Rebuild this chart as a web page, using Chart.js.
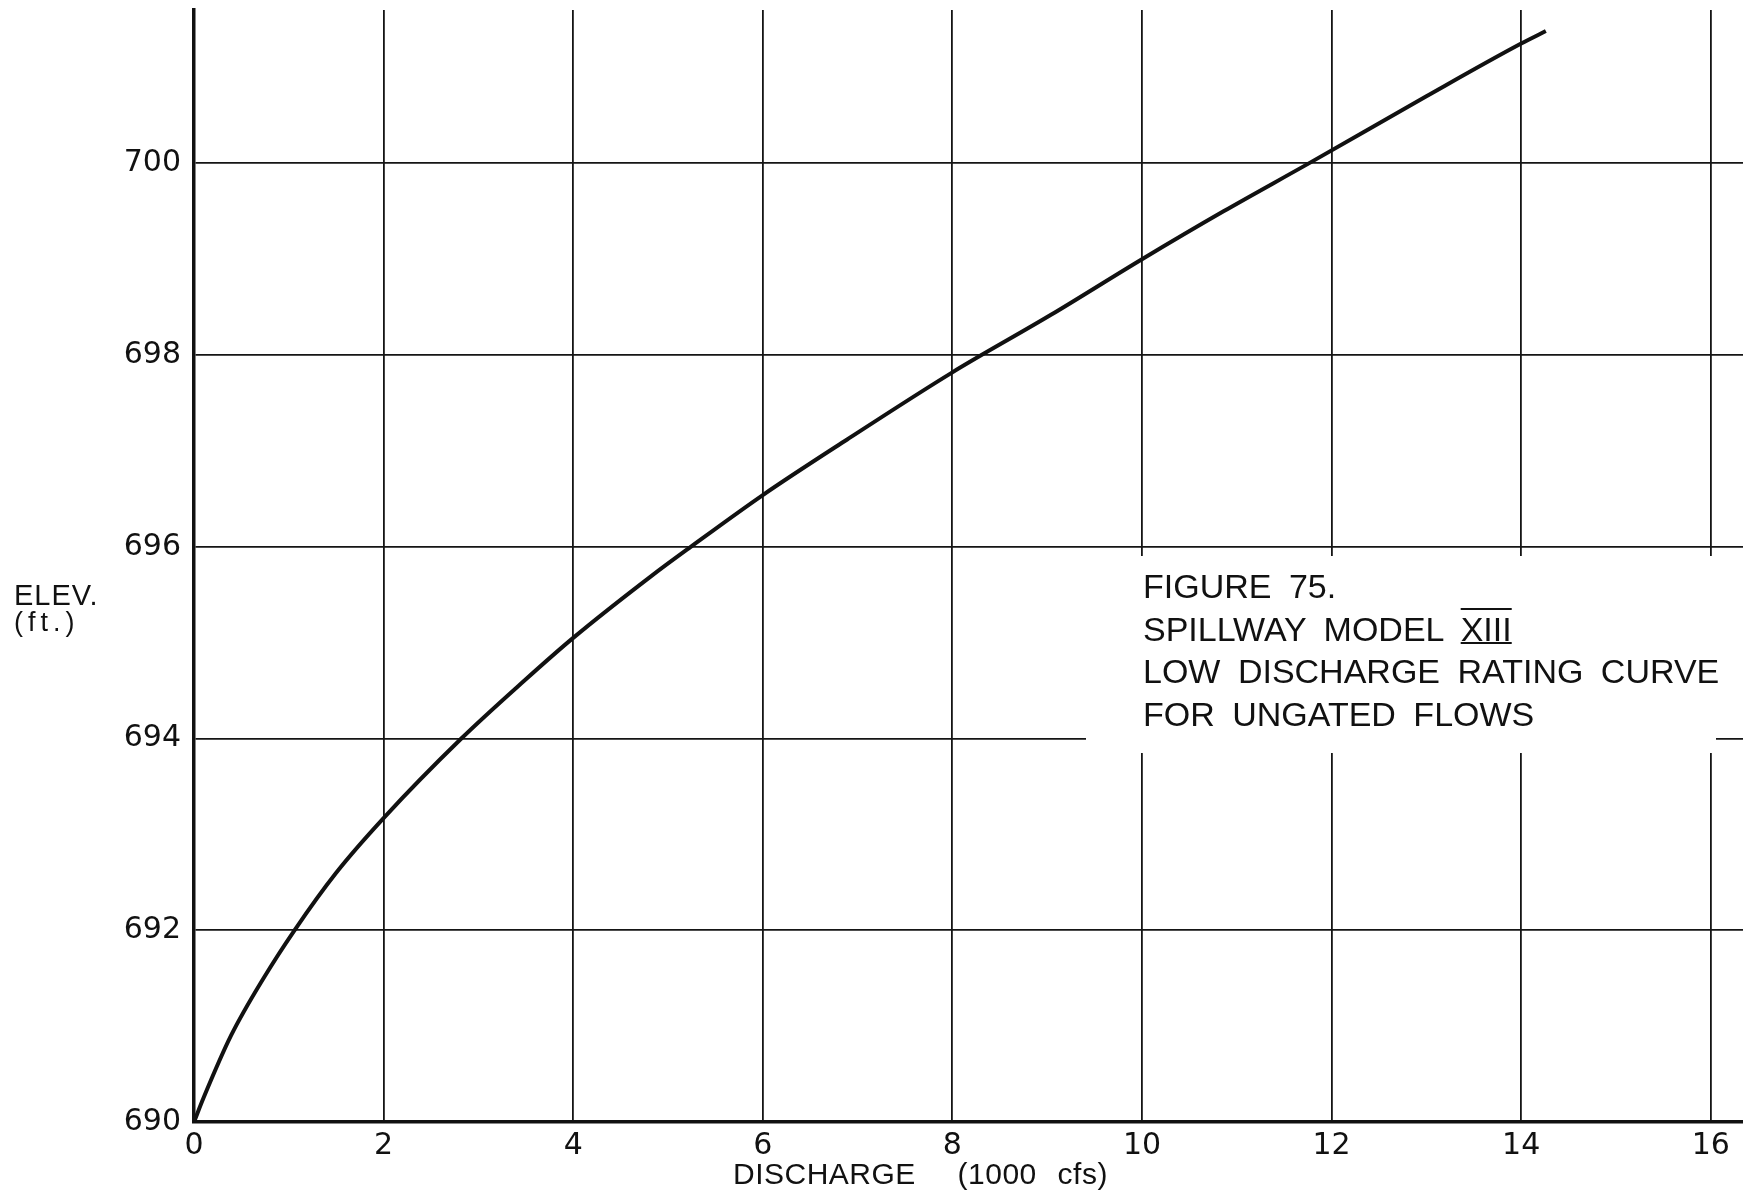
<!DOCTYPE html>
<html>
<head>
<meta charset="utf-8">
<script src="https://cdn.jsdelivr.net/npm/chart.js@4.4.1/dist/chart.umd.min.js"></script>
<style>
  html, body { margin: 0; padding: 0; background: #ffffff; }
  #wrap { position: relative; width: 1743px; height: 1193px; overflow: hidden; background: #fff; }
  #c { position: absolute; left: 0; top: 0; }
  .t { position: absolute; font-family: "Liberation Sans", Arial, sans-serif; color: #111; white-space: nowrap; }
  #caption { left: 1086px; top: 556px; width: 630px; height: 197px; background: #ffffff; }
  #caption .inner { position: absolute; left: 57px; top: 9px; font-size: 34px; line-height: 42.5px; word-spacing: 8px; }
  .roman { text-decoration: underline overline; text-decoration-thickness: 2px; text-underline-offset: 1px; }
  #ytitle1 { left: 14px; top: 581px; font-size: 29px; line-height: 29px; letter-spacing: 1px; }
  #ytitle2 { left: 14px; top: 609px; font-size: 27px; line-height: 27px; letter-spacing: 5px; }
  #xtitle { left: 733px; top: 1159px; font-size: 30px; line-height: 30px; word-spacing: 12px; letter-spacing: 0.5px; }
</style>
</head>
<body>
<div id="wrap">
  <canvas id="c" width="1743" height="1193"></canvas>
  <div id="caption" class="t">
    <div class="inner">
      FIGURE 75.<br>
      SPILLWAY MODEL <span class="roman">XIII</span><br>
      LOW DISCHARGE RATING CURVE<br>
      FOR UNGATED FLOWS
    </div>
  </div>
  <div id="ytitle1" class="t">ELEV.</div>
  <div id="ytitle2" class="t">(ft.)</div>
  <div id="xtitle" class="t">DISCHARGE &nbsp;(1000 cfs)</div>
</div>
<script>
// Discharge (1000 cfs)
const discharge = [0, 0.1, 0.39, 0.74, 1.06, 1.5, 2, 2.82, 3.48, 4, 4.83, 5.24, 6, 6.89, 8, 9.04, 10, 10.86, 11.76, 13, 14, 14.26];
// Elevation (ft.)
const elevation = [690, 690.25, 690.9, 691.51, 692, 692.6, 693.17, 694, 694.6, 695.05, 695.7, 696, 696.54, 697.12, 697.82, 698.42, 699.0, 699.5, 700, 700.7, 701.25, 701.38];
// Tick labels
const xTickValues = [0, 2, 4, 6, 8, 10, 12, 14, 16];
const yTickValues = [690, 692, 694, 696, 698, 700];

const points = discharge.map((q, i) => ({ x: q, y: elevation[i] }));

new Chart(document.getElementById('c'), {
  type: 'line',
  data: {
    datasets: [{
      data: points,
      borderColor: '#111111',
      borderWidth: 4,
      pointRadius: 0,
      fill: false,
      cubicInterpolationMode: 'monotone'
    }]
  },
  options: {
    responsive: false,
    devicePixelRatio: 1,
    animation: false,
    layout: { padding: { top: 10, right: 0, bottom: 0, left: 0 } },
    plugins: { legend: { display: false }, tooltip: { enabled: false }, title: { display: false } },
    scales: {
      x: {
        type: 'linear',
        min: 0,
        max: 16.34,
        afterBuildTicks: (s) => { s.ticks = xTickValues.map(v => ({ value: v })); },
        afterFit: (s) => { s.height = 71; s.paddingLeft = 0; s.paddingRight = 0; s.paddingTop = 0; s.paddingBottom = 0; },
        grid: { color: '#151515', lineWidth: 1.8, drawTicks: false },
        border: { display: true, color: '#111', width: 3.5 },
        ticks: {
          padding: 6,
          color: '#111',
          font: { family: 'DejaVu Sans', size: 30 },
          maxRotation: 0,
          autoSkip: false
        }
      },
      y: {
        type: 'linear',
        min: 690,
        max: 701.6,
        afterBuildTicks: (s) => { s.ticks = yTickValues.map(v => ({ value: v })); },
        afterFit: (s) => { s.width = 194; s.paddingLeft = 0; s.paddingRight = 0; s.paddingTop = 0; s.paddingBottom = 0; },
        grid: { color: '#151515', lineWidth: 1.8, drawTicks: false },
        border: { display: true, color: '#111', width: 3.5 },
        ticks: {
          padding: 13,
          color: '#111',
          font: { family: 'DejaVu Sans', size: 30 },
          autoSkip: false
        }
      }
    }
  }
});
</script>
</body>
</html>
